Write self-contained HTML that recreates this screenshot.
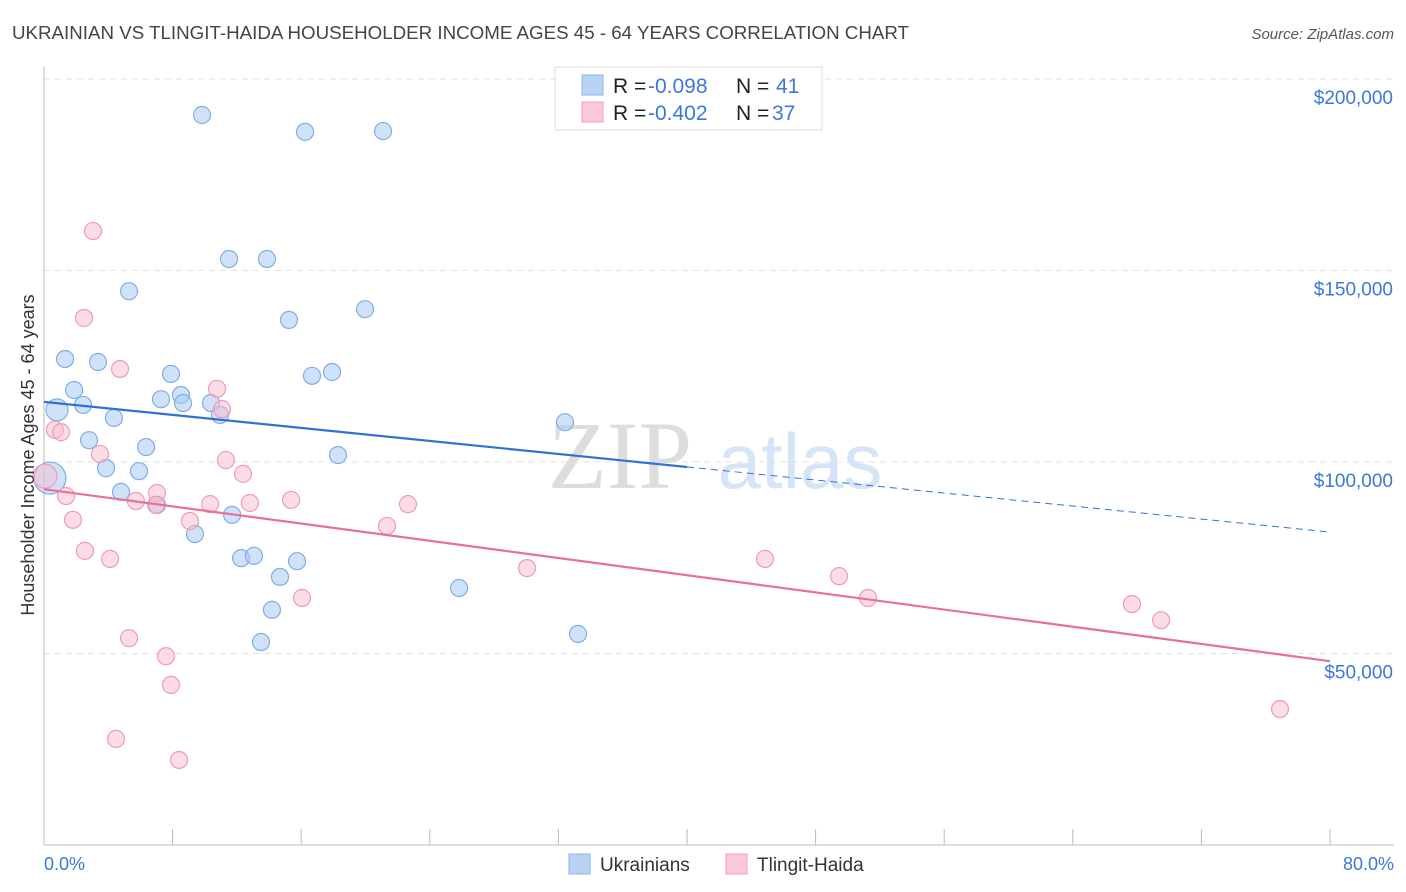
<!DOCTYPE html>
<html><head><meta charset="utf-8"><style>
body{margin:0;background:#fff;font-family:"Liberation Sans",sans-serif;}
svg{display:block}
</style></head><body>
<svg id="chart" width="1406" height="892">
<text x="12" y="39" font-size="18" fill="#444" textLength="897" lengthAdjust="spacingAndGlyphs">UKRAINIAN VS TLINGIT-HAIDA HOUSEHOLDER INCOME AGES 45 - 64 YEARS CORRELATION CHART</text>
<text x="1394" y="39" font-size="15" fill="#555" font-style="italic" text-anchor="end">Source: ZipAtlas.com</text>
<g id="grid"></g>
<text x="620" y="488" font-size="96" fill="#ddd" font-family="Liberation Serif" text-anchor="middle">ZIP</text>
<text x="800" y="488" font-size="78" fill="#d5e4f6" text-anchor="middle">atlas</text>
<g id="points"></g>
<g id="lines"></g>
<text transform="translate(34,455) rotate(-90)" font-size="18" fill="#333" text-anchor="middle">Householder Income Ages 45 - 64 years</text>
<text x="44" y="870" font-size="18" fill="#3b78d8">0.0%</text>
<text x="1394" y="870" font-size="18" fill="#3b78d8" text-anchor="end">80.0%</text>
<g>
<rect x="555" y="67" width="267" height="63" fill="#fff" stroke="#ddd"/>
<rect x="582" y="75" width="21" height="20" fill="#b8d3f4" stroke="#8ab4ea"/>
<rect x="582" y="102" width="21" height="20" fill="#fbc8d7" stroke="#f0a0b8"/>
<text y="93" font-size="21" fill="#222"><tspan x="613">R =</tspan><tspan x="648" fill="#3b78d8">-0.098</tspan><tspan x="736">N =</tspan><tspan x="776" fill="#3b78d8">41</tspan></text>
<text y="120" font-size="21" fill="#222"><tspan x="613">R =</tspan><tspan x="648" fill="#3b78d8">-0.402</tspan><tspan x="736">N =</tspan><tspan x="772" fill="#3b78d8">37</tspan></text>
</g>
<g>
<rect x="569" y="854" width="21" height="20" fill="#b8d3f4" stroke="#8ab4ea"/>
<text x="600" y="871" font-size="19" fill="#333">Ukrainians</text>
<rect x="726" y="854" width="21" height="20" fill="#fbc8d7" stroke="#f0a0b8"/>
<text x="757" y="871" font-size="19" fill="#333">Tlingit-Haida</text>
</g>
</svg>
<script>
const yTicks=[50000,100000,150000,200000];
const yTickLabels=["$50,000","$100,000","$150,000","$200,000"];
const xTicks=[0,8,16,24,32,40,48,56,64,72,80];
const blueX=[9.83,16.24,21.09,11.51,13.87,5.29,15.24,19.97,1.31,3.36,7.90,16.67,17.92,1.87,8.52,7.28,8.65,10.39,2.43,0.81,10.95,4.35,32.41,2.80,6.35,18.29,3.86,5.91,0.37,4.79,7.03,11.70,9.39,12.26,13.06,15.74,14.68,25.82,14.18,33.22,13.50];
const blueY=[190.6,186.2,186.4,153.0,153.0,144.6,137.1,139.9,126.9,126.1,123.0,122.5,123.5,118.8,117.5,116.4,115.4,115.4,114.9,113.6,112.3,111.5,110.4,105.7,103.9,101.8,98.4,97.6,95.8,92.2,88.8,86.2,81.2,74.9,75.5,74.1,70.0,67.1,61.4,55.1,53.0];
const blueBig=[19,28];
const pinkX=[3.05,2.49,4.73,10.76,11.07,0.68,1.06,3.48,11.32,12.38,1.37,0.06,7.03,5.72,10.33,12.81,15.37,6.97,22.64,1.80,9.08,21.34,2.55,4.11,44.85,49.46,30.05,51.26,16.05,5.29,7.59,67.68,69.49,7.90,4.48,76.89,8.40];
const pinkY=[160.3,137.6,124.3,119.1,113.8,108.4,107.8,102.1,100.5,96.9,91.1,96.3,91.9,89.8,89.0,89.3,90.1,88.8,89.0,84.9,84.6,83.3,76.8,74.7,74.7,70.2,72.3,64.5,64.5,54.0,49.3,62.9,58.7,41.8,27.7,35.5,22.2];
const pinkBig=[11];
const blueTrend=[115.7,81.7];
const pinkTrend=[92.9,48.0];
const NS="http://www.w3.org/2000/svg";
const xs=p=>44+p/80*1286;
const ys=v=>845-v/200000*766;
function mk(t,a,parent){const e=document.createElementNS(NS,t);for(const k in a)e.setAttribute(k,a[k]);parent.appendChild(e);return e;}
const grid=document.getElementById('grid');
yTicks.forEach((v,i)=>{
 const l=mk('line',{x1:44,x2:1394,y1:ys(v),y2:ys(v),stroke:'#e2e2e2','stroke-dasharray':'6,5'},grid);
 
 
 const t=mk('text',{x:1393,y:ys(v)+25,'font-size':19,fill:'#3b78d8','text-anchor':'end'},grid);
 t.textContent=yTickLabels[i];
 
 
});
const ax=mk('line',{x1:44,x2:1394,y1:845,y2:845,stroke:'#bbb'},grid);


const ay=mk('line',{x1:44,x2:44,y1:67,y2:845,stroke:'#bbb'},grid);


xTicks.forEach(p=>{
 const t=mk('line',{x1:xs(p),x2:xs(p),y1:829,y2:845,stroke:'#bbb'},grid);
 
 
});
const pts=document.getElementById('points');
blueX.forEach((x,i)=>{
 const c=mk('circle',{cx:xs(x),cy:ys(blueY[i]*1000),r:blueBig.includes(i)?(i==28?16:11):8.5,fill:'rgba(170,202,242,0.55)',stroke:'#7eaee8','stroke-width':1.2},pts);
 
 
});
pinkX.forEach((x,i)=>{
 const c=mk('circle',{cx:xs(x),cy:ys(pinkY[i]*1000),r:pinkBig.includes(i)?12:8.5,fill:'rgba(249,188,206,0.5)',stroke:'#f09ab6','stroke-width':1.2},pts);
 
 
});
const lines=document.getElementById('lines');
const bAt=p=>blueTrend[0]+(blueTrend[1]-blueTrend[0])*p/80;
const b1=mk('line',{x1:xs(0),y1:ys(bAt(0)*1000),x2:xs(40),y2:ys(bAt(40)*1000),stroke:'#2f72d6','stroke-width':2.2},lines);


const b2=mk('line',{x1:xs(40),y1:ys(bAt(40)*1000),x2:xs(80),y2:ys(bAt(80)*1000),stroke:'#2f72d6','stroke-width':1,'stroke-dasharray':'7,5'},lines);


const p1=mk('line',{x1:xs(0),y1:ys(pinkTrend[0]*1000),x2:xs(80),y2:ys(pinkTrend[1]*1000),stroke:'#e8709a','stroke-width':2.2},lines);


</script>
</body></html>
